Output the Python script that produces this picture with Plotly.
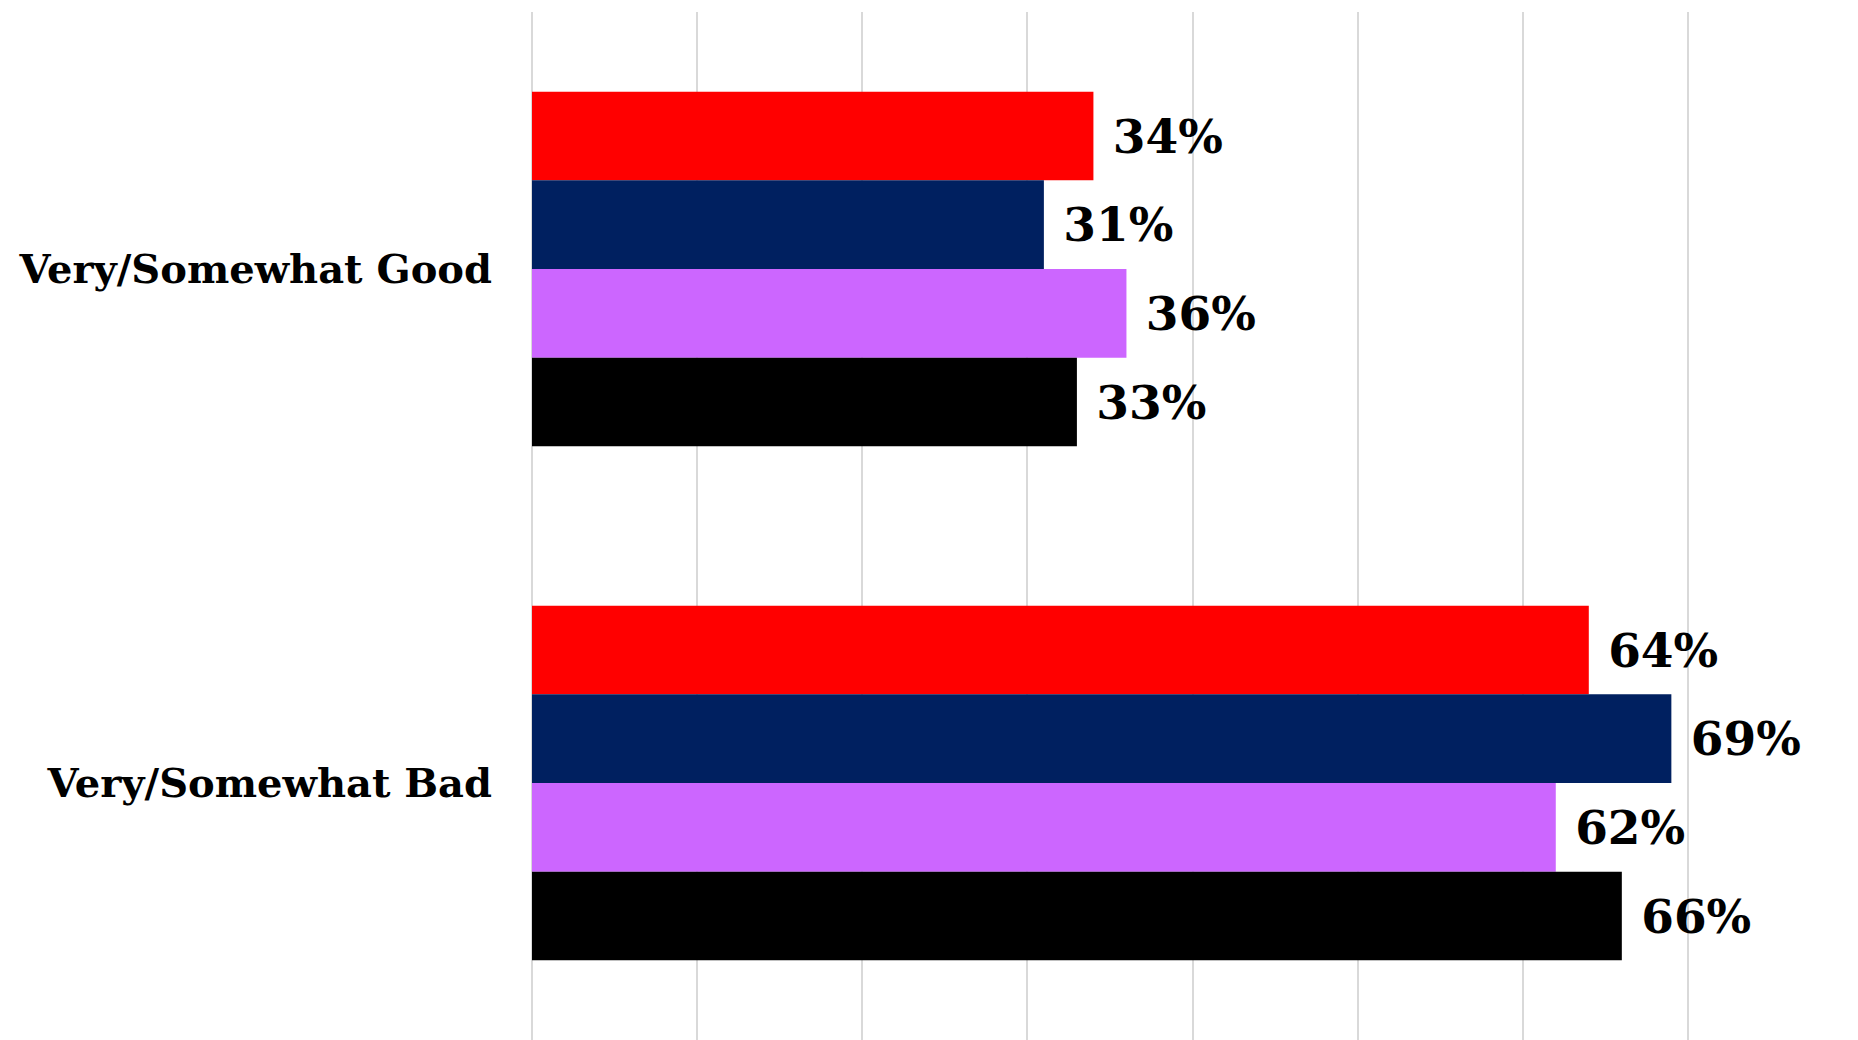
import plotly.graph_objects as go

categories = ["Very/Somewhat Good", "Very/Somewhat Bad"]
series_names = ["Series 1", "Series 2", "Series 3", "Series 4"]
series_values = [
    [34, 64],
    [31, 69],
    [36, 62],
    [33, 66],
]
series_colors = ["#FF0000", "#002060", "#CC66FF", "#000000"]
x_ticks = [0, 10, 20, 30, 40, 50, 60, 70, 80]

fig = go.Figure()
for name, vals, col in zip(series_names, series_values, series_colors):
    fig.add_trace(go.Bar(
        y=categories, x=vals, name=name, orientation="h",
        marker=dict(color=col, line=dict(width=0)),
        text=[f" {v}%" for v in vals], textposition="outside",
        textfont=dict(family="DejaVu Serif", size=47, color="black", weight="bold"),
        cliponaxis=False,
    ))

fig.update_layout(
    width=1858, height=1040,
    margin=dict(l=524, r=13, t=4, b=8),
    barmode="group", bargap=0.31, bargroupgap=0,
    paper_bgcolor="white", plot_bgcolor="white",
    showlegend=False,
    font=dict(family="DejaVu Serif", color="black"),
    xaxis=dict(range=[0, 80], tickvals=x_ticks, showticklabels=False,
               showgrid=True, gridcolor="#D9D9D9", gridwidth=2,
               zeroline=True, zerolinecolor="#D9D9D9", zerolinewidth=2,
               showline=False),
    yaxis=dict(autorange="reversed", showgrid=False, showline=False, zeroline=False,
               ticks="", ticklabelstandoff=39,
               tickfont=dict(family="DejaVu Serif", size=40, color="black", weight="bold")),
)

fig.write_html("out.html")
